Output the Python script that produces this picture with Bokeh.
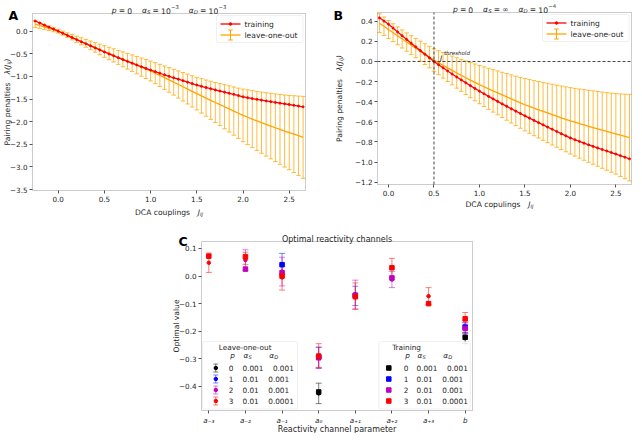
import math
import numpy as np
from bokeh.plotting import figure
from bokeh.models import (Range1d, FixedTicker, CustomJSTickFormatter, Label,
                          BoxAnnotation, ColumnDataSource)
from bokeh.layouts import column, row
from bokeh.embed import file_html
from bokeh.resources import INLINE

# ------------------------------------------------------------------ data ----
coupling_grid = [-0.30, -0.25, -0.20, -0.15, -0.10, -0.05, 0.00,
                 0.05, 0.10, 0.15, 0.20, 0.25, 0.30, 0.35, 0.40, 0.45, 0.50,
                 0.55, 0.60, 0.65, 0.70, 0.75, 0.80, 0.85, 0.90, 0.95, 1.00,
                 1.05, 1.10, 1.15, 1.20, 1.25, 1.30, 1.35, 1.40, 1.45, 1.50,
                 1.55, 1.60, 1.65, 1.70, 1.75, 1.80, 1.85, 1.90, 1.95, 2.00,
                 2.05, 2.10, 2.15, 2.20, 2.25, 2.30, 2.35, 2.40, 2.45, 2.50,
                 2.55, 2.60, 2.65, 2.70]

A_training = [0.27, 0.225, 0.18, 0.135, 0.09, 0.045, 0.0,
              -0.047, -0.094, -0.141, -0.188, -0.234, -0.279, -0.324, -0.37, -0.415, -0.46,
              -0.503, -0.545, -0.587, -0.628, -0.668, -0.707, -0.747, -0.786, -0.823, -0.86,
              -0.895, -0.93, -0.964, -0.997, -1.03, -1.062, -1.094, -1.126, -1.158, -1.19,
              -1.218, -1.245, -1.272, -1.298, -1.323, -1.348, -1.372, -1.396, -1.423, -1.45,
              -1.47, -1.489, -1.507, -1.525, -1.542, -1.558, -1.574, -1.59, -1.605, -1.62,
              -1.638, -1.655, -1.672, -1.69]
A_loo = [0.185, 0.155, 0.125, 0.094, 0.063, 0.031, 0.0,
         -0.044, -0.089, -0.134, -0.179, -0.224, -0.269, -0.314, -0.359, -0.404, -0.45,
         -0.493, -0.536, -0.579, -0.622, -0.665, -0.708, -0.751, -0.794, -0.837, -0.88,
         -0.928, -0.977, -1.027, -1.077, -1.127, -1.178, -1.228, -1.279, -1.33, -1.38,
         -1.43, -1.479, -1.528, -1.576, -1.623, -1.67, -1.718, -1.766, -1.813, -1.86,
         -1.902, -1.943, -1.983, -2.022, -2.06, -2.097, -2.134, -2.17, -2.206, -2.24,
         -2.275, -2.31, -2.345, -2.38]
A_loo_err = [0.08, 0.072, 0.064, 0.056, 0.05, 0.045, 0.042,
             0.045, 0.052, 0.06, 0.069, 0.078, 0.087, 0.096, 0.106, 0.117, 0.128,
             0.137, 0.146, 0.155, 0.164, 0.173, 0.182, 0.192, 0.201, 0.21, 0.22,
             0.232, 0.245, 0.258, 0.272, 0.286, 0.3, 0.315, 0.33, 0.345, 0.36,
             0.38, 0.4, 0.421, 0.442, 0.464, 0.487, 0.51, 0.533, 0.556, 0.58,
             0.604, 0.628, 0.652, 0.676, 0.7, 0.724, 0.748, 0.772, 0.796, 0.82,
             0.848, 0.876, 0.904, 0.93]

B_training = [0.57, 0.535, 0.50, 0.467, 0.434, 0.402, 0.37,
              0.332, 0.294, 0.256, 0.219, 0.182, 0.145, 0.108, 0.072, 0.036, 0.0,
              -0.032, -0.063, -0.094, -0.124, -0.154, -0.183, -0.212, -0.24, -0.268, -0.295,
              -0.321, -0.347, -0.372, -0.397, -0.422, -0.446, -0.47, -0.494, -0.517, -0.54,
              -0.563, -0.586, -0.608, -0.63, -0.652, -0.674, -0.696, -0.718, -0.739, -0.76,
              -0.778, -0.795, -0.812, -0.828, -0.844, -0.86, -0.875, -0.89, -0.905, -0.92,
              -0.936, -0.952, -0.968, -0.984]
B_loo = [0.51, 0.477, 0.445, 0.413, 0.381, 0.35, 0.318,
         0.286, 0.255, 0.224, 0.193, 0.163, 0.133, 0.103, 0.073, 0.044, 0.015,
         -0.012, -0.038, -0.064, -0.089, -0.114, -0.138, -0.162, -0.185, -0.208, -0.23,
         -0.251, -0.272, -0.292, -0.312, -0.332, -0.352, -0.372, -0.392, -0.411, -0.43,
         -0.447, -0.464, -0.48, -0.496, -0.512, -0.528, -0.544, -0.56, -0.575, -0.59,
         -0.604, -0.618, -0.631, -0.644, -0.657, -0.67, -0.683, -0.696, -0.708, -0.72,
         -0.733, -0.745, -0.757, -0.77]
B_loo_err = [0.1, 0.099, 0.098, 0.096, 0.094, 0.092, 0.09,
             0.089, 0.089, 0.09, 0.091, 0.093, 0.096, 0.099, 0.103, 0.107, 0.112,
             0.119, 0.127, 0.135, 0.143, 0.151, 0.159, 0.167, 0.175, 0.183, 0.19,
             0.197, 0.204, 0.211, 0.218, 0.225, 0.232, 0.239, 0.246, 0.253, 0.26,
             0.267, 0.274, 0.281, 0.288, 0.295, 0.302, 0.309, 0.316, 0.323, 0.33,
             0.337, 0.344, 0.351, 0.358, 0.365, 0.372, 0.379, 0.386, 0.393, 0.40,
             0.41, 0.42, 0.43, 0.44]
B_threshold = 0.5

A_xlim, A_ylim = (-0.278, 2.676), (-3.52, 0.39)
B_xlim, B_ylim = (-0.121, 2.672), (-1.223, 0.487)
C_xlim, C_ylim = (-0.2, 7.2), (-0.487, 0.125)
A_xticks = [0.0, 0.5, 1.0, 1.5, 2.0, 2.5]
A_yticks = [0.0, -0.5, -1.0, -1.5, -2.0, -2.5, -3.0, -3.5]
B_yticks = [0.4, 0.2, 0.0, -0.2, -0.4, -0.6, -0.8, -1.0, -1.2]
C_yticks = [0.1, 0.0, -0.1, -0.2, -0.3, -0.4]

channel_labels = ["a₋₃", "a₋₂", "a₋₁", "a₀", "a₊₁", "a₊₂", "a₊₃", "b"]
p_values = [0, 1, 2, 3]
alpha_S = ["0.001", "0.01", "0.01", "0.01"]
alpha_D = ["0.001", "0.001", "0.001", "0.0001"]
series_colors = ["#000000", "#0000ff", "#bf00bf", "#ff0000"]

# leave-one-out mean / error and training value per channel, one list per p
loo_mean = [
    [None, None, None, -0.425, None, None, None, -0.225],
    [None, None, 0.043, -0.295, -0.072, None, None, -0.187],
    [None, 0.058, 0.016, -0.297, -0.068, -0.013, None, -0.190],
    [0.048, 0.064, -0.005, -0.288, -0.072, 0.030, -0.073, -0.155],
]
loo_err = [
    [None, None, None, 0.037, None, None, None, 0.020],
    [None, None, 0.039, 0.038, 0.035, None, None, 0.020],
    [None, 0.037, 0.052, 0.038, 0.053, 0.029, None, 0.020],
    [0.035, 0.022, 0.046, 0.043, 0.047, 0.034, 0.031, 0.023],
]
train_value = [
    [None, None, None, -0.420, None, None, None, -0.222],
    [None, None, 0.041, -0.293, -0.070, None, None, -0.185],
    [None, 0.025, 0.012, -0.296, -0.070, -0.007, None, -0.190],
    [0.072, 0.070, 0.000, -0.290, -0.075, 0.030, -0.100, -0.155],
]

# ---------------------------------------------------------------- styling ----
FONT = "DejaVu Sans"
TXT = "#262626"
AXC = "#555555"
ORANGE = "#ffa500"
RED = "#ff0000"
TICK_FS = 7.2
LAB_FS = 7.6
LEG_FS = 7.6

EM = {c: 0.636 for c in "0123456789"}
EM.update({'.': 0.318, ' ': 0.318, '-': 0.361, '−': 0.838, '=': 0.838, '(': 0.390,
           ')': 0.390, 'α': 0.659, 'λ': 0.592, '∞': 0.833,
           'a': 0.613, 'b': 0.635, 'c': 0.550, 'd': 0.635, 'e': 0.615, 'f': 0.352,
           'g': 0.635, 'h': 0.634, 'i': 0.278, 'j': 0.278, 'k': 0.579, 'l': 0.278,
           'm': 0.974, 'n': 0.634, 'o': 0.612, 'p': 0.635, 'q': 0.635, 'r': 0.411,
           's': 0.521, 't': 0.392, 'u': 0.634, 'v': 0.592, 'w': 0.818, 'x': 0.592,
           'y': 0.592, 'z': 0.525, 'A': 0.684, 'C': 0.698, 'D': 0.770, 'J': 0.295,
           'O': 0.787, 'P': 0.603, 'R': 0.695, 'S': 0.635, 'T': 0.611})


def text_width(s, size):
    return sum(EM.get(ch, 0.6) for ch in s) * size


def add_text(p, x, y, text, size, italic=False, bold=False, align="left",
             baseline="alphabetic", dx=0.0, dy=0.0, angle=0.0, color=TXT):
    style = "bold" if bold else ("italic" if italic else "normal")
    p.add_layout(Label(x=x, y=y, x_offset=dx, y_offset=dy, text=text,
                       text_font=FONT, text_font_size=f"{size:.2f}px",
                       text_font_style=style, text_align=align,
                       text_baseline=baseline, angle=angle, text_color=color))


def add_rich(p, x, y, pieces, size, align="center", rotated=False, dx=0.0, dy=0.0,
             baseline="alphabetic"):
    """pieces: (text, italic, scale, shift_em, gap_em_before)"""
    total = 0.0
    for t, it, sc, sh, gap in pieces:
        total += gap * size + text_width(t, size * sc)
    cur = -total / 2 if align == "center" else 0.0
    for t, it, sc, sh, gap in pieces:
        cur += gap * size
        if rotated:
            add_text(p, x, y, t, size * sc, italic=it, dx=dx - sh * size, dy=dy + cur,
                     angle=math.pi / 2, baseline=baseline)
        else:
            add_text(p, x, y, t, size * sc, italic=it, dx=dx + cur, dy=dy + sh * size,
                     baseline=baseline)
        cur += text_width(t, size * sc)


NUM_FMT_CODE = """
    const s = Math.abs(tick).toFixed(1);
    return (tick < -1e-9 ? "\\u2212" : "") + s;
"""


def make_panel(W, H, box_px, xlim, ylim):
    """Figure whose frame is the whole canvas; the plot box sits at box_px.
    Axes are Bokeh axes pinned to the box edges with fixed_location."""
    bx0, bx1, by0, by1 = box_px
    sx = (bx1 - bx0) / (xlim[1] - xlim[0])
    sy = (by1 - by0) / (ylim[1] - ylim[0])
    xr = (xlim[0] - bx0 / sx, xlim[1] + (W - bx1) / sx)
    yr = (ylim[0] - (H - by1) / sy, ylim[1] + by0 / sy)
    p = figure(width=W, height=H, x_range=Range1d(*xr), y_range=Range1d(*yr),
               output_backend="svg", toolbar_location=None, title=None,
               min_border=0, min_border_left=0, min_border_right=0,
               min_border_top=0, min_border_bottom=0)
    p.grid.visible = False
    p.outline_line_color = None
    p.background_fill_color = "white"
    p.border_fill_color = "white"
    p.xaxis[0].fixed_location = ylim[0]
    p.yaxis[0].fixed_location = xlim[0]
    for ax in (p.xaxis[0], p.yaxis[0]):
        ax.axis_line_color = None
        ax.major_tick_line_color = AXC
        ax.major_tick_out = 3
        ax.major_tick_in = 0
        ax.minor_tick_line_color = None
        ax.major_label_text_font = FONT
        ax.major_label_text_font_size = f"{TICK_FS}px"
        ax.major_label_text_color = TXT
        ax.major_label_standoff = 2
        ax.formatter = CustomJSTickFormatter(code=NUM_FMT_CODE)

    def fx(px):
        return xlim[0] + px / sx

    def fy(py):
        return ylim[1] - py / sy
    return p, fx, fy, (bx1 - bx0), (by1 - by0)


def add_box(p, xlim, ylim):
    p.add_layout(BoxAnnotation(left=xlim[0], right=xlim[1], bottom=ylim[0], top=ylim[1],
                               fill_color=None, line_color=AXC, line_width=1))


def overlay(r):
    r.level = "overlay"
    return r


def line_legend(p, fx, fy, fw, labels):
    L, R, T, Bt = fw - 89, fw - 2.5, 2, 29
    p.add_layout(BoxAnnotation(left=fx(L), right=fx(R), top=fy(T), bottom=fy(Bt),
                               fill_color="white", fill_alpha=0.8, line_color="#cccccc",
                               line_width=1, border_radius=2))
    rows = [10.5, 21.5]
    h0, h1, hc = L + 4, L + 24, L + 14
    y0 = fy(rows[0])
    overlay(p.segment(x0=[fx(h0)], y0=[y0], x1=[fx(h1)], y1=[y0], line_color=RED, line_width=1.3))
    overlay(p.scatter(x=[fx(hc)], y=[y0], marker="circle", size=2.6, color=RED))
    y1 = fy(rows[1])
    overlay(p.segment(x0=[fx(h0)], y0=[y1], x1=[fx(h1)], y1=[y1], line_color=ORANGE, line_width=1.3))
    overlay(p.segment(x0=[fx(hc)], y0=[fy(rows[1] - 5)], x1=[fx(hc)], y1=[fy(rows[1] + 5)],
                      line_color=ORANGE, line_width=1))
    overlay(p.scatter(x=[fx(hc), fx(hc)], y=[fy(rows[1] - 5), fy(rows[1] + 5)], marker="dash",
                      size=4.5, line_color=ORANGE, line_width=1))
    for lab, r in zip(labels, rows):
        add_text(p, fx(L + 28), fy(r), lab, LEG_FS, baseline="middle")


def curve_panel(p, grid, train, loo, err, xlim):
    g = np.array(grid, dtype=float)
    keep = (g >= xlim[0]) & (g <= xlim[1])
    m = np.array(loo, dtype=float)[keep]
    e = np.array(err, dtype=float)[keep]
    src = ColumnDataSource(dict(x=g[keep], train=np.array(train, dtype=float)[keep], loo=m,
                                lo=m - e, hi=m + e))
    p.segment(x0="x", y0="lo", x1="x", y1="hi", source=src, line_color=ORANGE,
              line_width=1, line_alpha=0.75)
    p.scatter(x="x", y="lo", source=src, marker="dash", size=4.5, line_color=ORANGE,
              line_alpha=0.75, line_width=1)
    p.scatter(x="x", y="hi", source=src, marker="dash", size=4.5, line_color=ORANGE,
              line_alpha=0.75, line_width=1)
    p.line(x="x", y="loo", source=src, line_color=ORANGE, line_width=1.3)
    p.line(x="x", y="train", source=src, line_color=RED, line_width=1.3)
    p.scatter(x="x", y="train", source=src, marker="circle", size=2.0, color=RED)


# ---------------------------------------------------------------- panel A ----
pA, fxA, fyA, A_fw, A_fh = make_panel(330, 222, (32, 305, 13, 190), A_xlim, A_ylim)
pA.xaxis.ticker = FixedTicker(ticks=A_xticks)
pA.yaxis.ticker = FixedTicker(ticks=A_yticks)
curve_panel(pA, coupling_grid, A_training, A_loo, A_loo_err, A_xlim)
add_box(pA, A_xlim, A_ylim)
line_legend(pA, fxA, fyA, A_fw, ["training", "leave-one-out"])
xmidA, ymidA = (A_xlim[0] + A_xlim[1]) / 2, (A_ylim[0] + A_ylim[1]) / 2
add_rich(pA, xmidA, A_ylim[1], [
    ("p", True, 1, 0, 0), ("=", False, 1, 0, 0.28), ("0", False, 1, 0, 0.28),
    ("α", True, 1, 0, 1.3), ("S", True, 0.7, -0.22, 0.02), ("=", False, 1, 0, 0.28),
    ("10", False, 1, 0, 0.28), ("−3", False, 0.7, 0.45, 0.03),
    ("α", True, 1, 0, 1.3), ("D", True, 0.7, -0.22, 0.02), ("=", False, 1, 0, 0.28),
    ("10", False, 1, 0, 0.28), ("−3", False, 0.7, 0.45, 0.03)], LAB_FS, dy=3)
add_rich(pA, xmidA, A_ylim[0], [("DCA couplings", False, 1, 0, 0), ("J", True, 1, 0, 1.0),
                                ("ij", True, 0.7, -0.25, 0.02)], LAB_FS, dy=-22)
add_rich(pA, A_xlim[0], ymidA, [("Pairing penalties", False, 1, 0, 0), ("λ(J", True, 1, 0, 1.0),
                                ("ij", True, 0.7, -0.25, 0.02), (")", True, 1, 0, 0.02)],
         LAB_FS, rotated=True, dx=-25)
add_text(pA, A_xlim[0], A_ylim[1], "A", 12.5, bold=True, dx=-24, dy=-2, color="#000000")

# ---------------------------------------------------------------- panel B ----
pB, fxB, fyB, B_fw, B_fh = make_panel(304, 222, (47, 301, 12, 184), B_xlim, B_ylim)
pB.xaxis.ticker = FixedTicker(ticks=A_xticks)
pB.yaxis.ticker = FixedTicker(ticks=B_yticks)
curve_panel(pB, coupling_grid, B_training, B_loo, B_loo_err, B_xlim)
pB.segment(x0=[B_threshold], y0=[B_ylim[0]], x1=[B_threshold], y1=[B_ylim[1]],
           line_color="#333333", line_width=0.9, line_dash="3 2")
pB.segment(x0=[B_xlim[0]], y0=[0.0], x1=[B_xlim[1]], y1=[0.0],
           line_color="#333333", line_width=0.9, line_dash="3 2")
add_box(pB, B_xlim, B_ylim)
line_legend(pB, fxB, fyB, B_fw, ["training", "leave-one-out"])
add_text(pB, B_threshold, 0.0, "J", LAB_FS, italic=True, dx=6, dy=3)
add_text(pB, B_threshold, 0.0, "threshold", LAB_FS * 0.72, italic=True, dx=10, dy=8)
xmidB, ymidB = (B_xlim[0] + B_xlim[1]) / 2, (B_ylim[0] + B_ylim[1]) / 2
add_rich(pB, xmidB, B_ylim[1], [
    ("p", True, 1, 0, 0), ("=", False, 1, 0, 0.28), ("0", False, 1, 0, 0.28),
    ("α", True, 1, 0, 1.3), ("S", True, 0.7, -0.22, 0.02), ("=", False, 1, 0, 0.28),
    ("∞", False, 1, 0, 0.28),
    ("α", True, 1, 0, 1.3), ("D", True, 0.7, -0.22, 0.02), ("=", False, 1, 0, 0.28),
    ("10", False, 1, 0, 0.28), ("−4", False, 0.7, 0.45, 0.03)], LAB_FS, dy=3)
add_rich(pB, xmidB, B_ylim[0], [("DCA copulings", False, 1, 0, 0), ("J", True, 1, 0, 1.0),
                                ("ij", True, 0.7, -0.25, 0.02)], LAB_FS, dy=-20, dx=-5)
add_rich(pB, B_xlim[0], ymidB, [("Pairing penalties", False, 1, 0, 0), ("λ(J", True, 1, 0, 1.0),
                                ("ij", True, 0.7, -0.25, 0.02), (")", True, 1, 0, 0.02)],
         LAB_FS, rotated=True, dx=-38)
add_text(pB, B_xlim[0], B_ylim[1], "B", 12.5, bold=True, dx=-44, dy=-3, color="#000000")

# ---------------------------------------------------------------- panel C ----
pC, fxC, fyC, C_fw, C_fh = make_panel(634, 211, (201, 472, 19, 188), C_xlim, C_ylim)
pC.xaxis.ticker = FixedTicker(ticks=list(range(len(channel_labels))))
pC.xaxis.formatter = CustomJSTickFormatter(args=dict(labels=channel_labels),
                                           code="return labels[Math.round(tick)];")
pC.xaxis.major_label_text_font_style = "italic"
pC.yaxis.ticker = FixedTicker(ticks=C_yticks)

xs = np.arange(len(channel_labels), dtype=float)
for k in range(len(p_values)):
    m = np.array(loo_mean[k], dtype=float)
    e = np.array(loo_err[k], dtype=float)
    col = series_colors[k]
    src = ColumnDataSource(dict(x=xs, m=m, lo=m - e, hi=m + e))
    pC.segment(x0="x", y0="lo", x1="x", y1="hi", source=src, line_color=col,
               line_alpha=0.5, line_width=1)
    pC.scatter(x="x", y="lo", source=src, marker="dash", size=6, line_color=col,
               line_alpha=0.5, line_width=1)
    pC.scatter(x="x", y="hi", source=src, marker="dash", size=6, line_color=col,
               line_alpha=0.5, line_width=1)
    pC.scatter(x="x", y="m", source=src, marker="circle", size=3.5, color=col)
for k in range(len(p_values)):
    pC.scatter(x=xs, y=np.array(train_value[k], dtype=float), marker="square", size=4.5,
               color=series_colors[k])
add_box(pC, C_xlim, C_ylim)


def c_legend(p, left, right, top, bottom, title, title_dx, mark_dx, col_p, col_s, kind):
    p.add_layout(BoxAnnotation(left=fxC(left), right=fxC(right), top=fyC(top),
                               bottom=fyC(bottom), fill_color="white", fill_alpha=0.8,
                               line_color="#cccccc", line_width=1, border_radius=2))
    fs = 7.3
    add_text(p, fxC(left + title_dx), fyC(top + 6), title, fs, baseline="middle")
    hy = fyC(top + 14)
    col_d = col_s + text_width("0.01", fs) + 9.5
    add_text(p, fxC(left + col_p + 1.5), hy, "p", fs, italic=True, baseline="middle")
    add_rich(p, fxC(left + col_s + 1), hy, [("α", True, 1, 0, 0), ("S", True, 0.7, -0.25, 0.02)],
             fs, align="left", baseline="middle")
    add_rich(p, fxC(left + col_d + 1), hy, [("α", True, 1, 0, 0), ("D", True, 0.7, -0.25, 0.02)],
             fs, align="left", baseline="middle")
    rows = [26.5, 37.5, 48.5, 59.5]
    for k, r in enumerate(rows):
        col = series_colors[k]
        yc = fyC(top + r)
        xm = fxC(left + mark_dx)
        if kind == "loo":
            overlay(p.segment(x0=[xm], y0=[fyC(top + r - 4)], x1=[xm], y1=[fyC(top + r + 4)],
                              line_color=col, line_alpha=0.5, line_width=1))
            overlay(p.scatter(x=[xm, xm], y=[fyC(top + r - 4), fyC(top + r + 4)], marker="dash",
                              size=5, line_color=col, line_alpha=0.5, line_width=1))
            overlay(p.scatter(x=[xm], y=[yc], marker="circle", size=3.5, color=col))
        else:
            overlay(p.scatter(x=[xm], y=[yc], marker="square", size=4.5, color=col))
        add_text(p, fxC(left + col_p), yc, str(p_values[k]), fs, baseline="middle")
        add_text(p, fxC(left + col_s), yc, alpha_S[k], fs, baseline="middle")
        xd = col_s + text_width(alpha_S[k], fs) + 9.5
        add_text(p, fxC(left + xd), yc, alpha_D[k], fs, baseline="middle")


leg_top = C_fh - 1.5 - 67.5
c_legend(pC, 1, 96, leg_top, C_fh - 1.5, "Leave-one-out", 16.3, 13.3, 26.3, 40, "loo")
c_legend(pC, 177.3, C_fw - 2.3, leg_top, C_fh - 1.5, "Training", 13.4, 10, 25, 37.7, "train")

xmidC, ymidC = (C_xlim[0] + C_xlim[1]) / 2, (C_ylim[0] + C_ylim[1]) / 2
add_text(pC, xmidC, C_ylim[1], "Optimal reactivity channels", 8.0, align="center", dy=2.5)
add_text(pC, xmidC, C_ylim[0], "Reactivity channel parameter", 8.0, align="center", dy=-19)
add_text(pC, C_xlim[0], ymidC, "Optimal value", LAB_FS, align="center", dx=-25,
         angle=math.pi / 2)
add_text(pC, C_xlim[0], C_ylim[1], "C", 12.5, bold=True, dx=-23, dy=0, color="#000000")

layout = column(row(pA, pB), pC)
open("out.html", "w").write(file_html(layout, INLINE))
